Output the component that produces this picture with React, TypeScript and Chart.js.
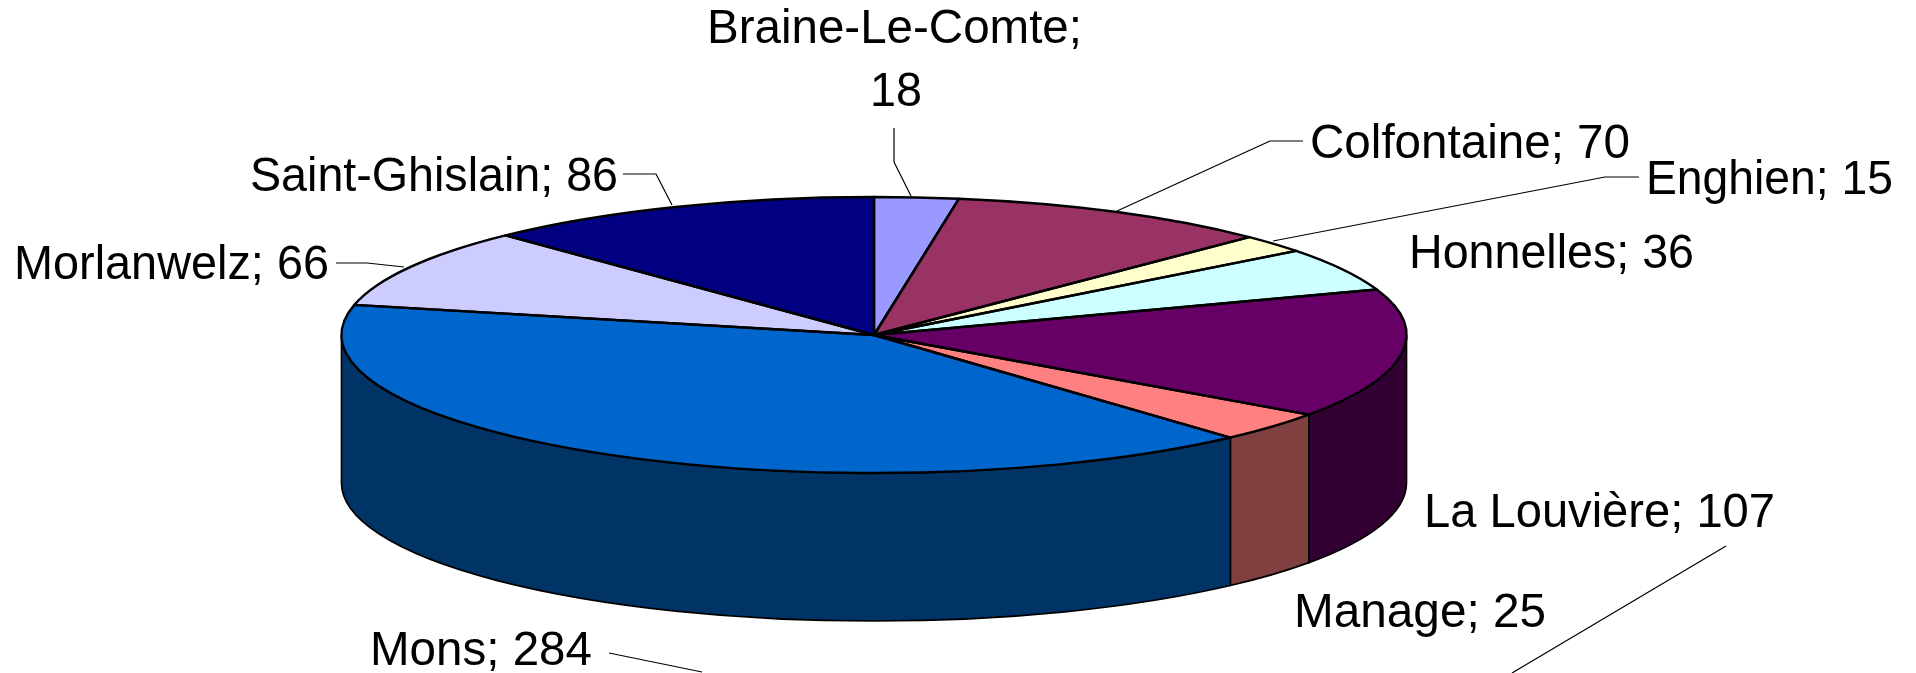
import React, { useEffect, useRef } from "react";
import { Chart, registerables } from "chart.js";

Chart.register(...registerables);

const categories = ["Braine-Le-Comte", "Colfontaine", "Enghien", "Honnelles", "La Louvière", "Manage", "Mons", "Morlanwelz", "Saint-Ghislain"];
const values = [18, 70, 15, 36, 107, 25, 284, 66, 86];
const topColors = ["#9999FF", "#993366", "#FFFFCC", "#CCFFFF", "#660066", "#FF8080", "#0066CC", "#CCCCFF", "#000080"];
const sideColors = ["#4D4D80", "#4D1A33", "#808066", "#668080", "#330033", "#804040", "#003366", "#666680", "#000040"];

const WIDTH = 1916;
const HEIGHT = 673;
const RADIUS = 532.5;
const TILT = 138 / 532.5;
const DEPTH = 148;
const FONT = '48px "Liberation Sans", Arial, sans-serif';

// label placement: [text, left x, baseline y, fitted width] for each line of each category's label
const labelLines: Record<string, [string, number, number, number][]> = {
  "Braine-Le-Comte": [["Braine-Le-Comte;", 707, 43, 375], ["18", 870, 106, 52]],
  Colfontaine: [["Colfontaine; 70", 1310, 158, 320]],
  Enghien: [["Enghien; 15", 1646, 194, 247]],
  Honnelles: [["Honnelles; 36", 1409, 268, 285]],
  "La Louvière": [["La Louvière; 107", 1424, 527, 351]],
  Manage: [["Manage; 25", 1294, 627, 252]],
  Mons: [["Mons; 284", 370, 665, 222]],
  Morlanwelz: [["Morlanwelz; 66", 14, 279, 315]],
  "Saint-Ghislain": [["Saint-Ghislain; 86", 250, 191, 368]],
};

const leaderLines: [number, number][][] = [
  [[894, 128], [894, 162], [911, 196]],
  [[1303, 141], [1270, 141], [1117, 211]],
  [[1639, 177], [1605, 177], [1273, 241]],
  [[1726, 546], [1512, 673]],
  [[609, 653], [702, 672]],
  [[336, 263], [367, 263], [404, 267]],
  [[623, 174], [656, 174], [672, 205]],
];

const pie3d = {
  id: "pie3d",
  beforeDatasetsDraw(chart: any) {
    const { ctx } = chart;
    const arcs = chart.getDatasetMeta(0).data;
    const cy = arcs[0].y;
    arcs.forEach((arc: any, i: number) => {
      const a0 = Math.max(arc.startAngle, 0);
      const a1 = Math.min(arc.endAngle, Math.PI);
      if (a1 <= a0) return;
      const r = arc.outerRadius;
      ctx.beginPath();
      ctx.ellipse(arc.x, arc.y, r, r * TILT, 0, a0, a1);
      ctx.ellipse(arc.x, arc.y + DEPTH, r, r * TILT, 0, a1, a0, true);
      ctx.closePath();
      ctx.fillStyle = sideColors[i];
      ctx.fill();
      ctx.lineWidth = 1.7;
      ctx.strokeStyle = "#000";
      ctx.lineJoin = "round";
      ctx.stroke();
    });
    ctx.save();
    ctx.translate(0, cy);
    ctx.scale(1, TILT);
    ctx.translate(0, -cy);
  },
  afterDatasetsDraw(chart: any) {
    const { ctx } = chart;
    ctx.restore();
    const arcs = chart.getDatasetMeta(0).data;
    arcs.forEach((arc: any) => {
      const r = arc.outerRadius;
      ctx.beginPath();
      ctx.moveTo(arc.x, arc.y);
      ctx.ellipse(arc.x, arc.y, r, r * TILT, 0, arc.startAngle, arc.endAngle);
      ctx.closePath();
      ctx.lineWidth = 2.4;
      ctx.strokeStyle = "#000";
      ctx.lineJoin = "round";
      ctx.stroke();
    });
  },
  afterDraw(chart: any) {
    const { ctx } = chart;
    ctx.save();
    ctx.strokeStyle = "#000";
    ctx.lineWidth = 1.2;
    leaderLines.forEach((pts) => {
      ctx.beginPath();
      pts.forEach(([x, y], k) => (k ? ctx.lineTo(x, y) : ctx.moveTo(x, y)));
      ctx.stroke();
    });
    ctx.font = FONT;
    ctx.fillStyle = "#000";
    ctx.textAlign = "left";
    ctx.textBaseline = "alphabetic";
    categories.forEach((c) => {
      labelLines[c].forEach(([text, x, y, w]) => ctx.fillText(text, x, y, w));
    });
    ctx.restore();
  },
};

export default function App() {
  const ref = useRef<HTMLCanvasElement>(null);
  useEffect(() => {
    document.body.style.margin = "0";
    const chart = new Chart(ref.current as HTMLCanvasElement, {
      type: "pie",
      data: {
        labels: categories,
        datasets: [{ data: values, backgroundColor: topColors, borderWidth: 0, clip: false } as any],
      },
      options: {
        animation: false,
        responsive: false,
        radius: RADIUS,
        layout: { padding: { left: 0, right: 168, top: 0, bottom: 3 } },
        plugins: { legend: { display: false }, tooltip: { enabled: false } },
      } as any,
      plugins: [pie3d],
    });
    return () => chart.destroy();
  }, []);
  return (
    <div style={{ width: WIDTH, height: HEIGHT, background: "#fff", overflow: "hidden" }}>
      <canvas ref={ref} width={WIDTH} height={HEIGHT} style={{ display: "block" }} />
    </div>
  );
}
